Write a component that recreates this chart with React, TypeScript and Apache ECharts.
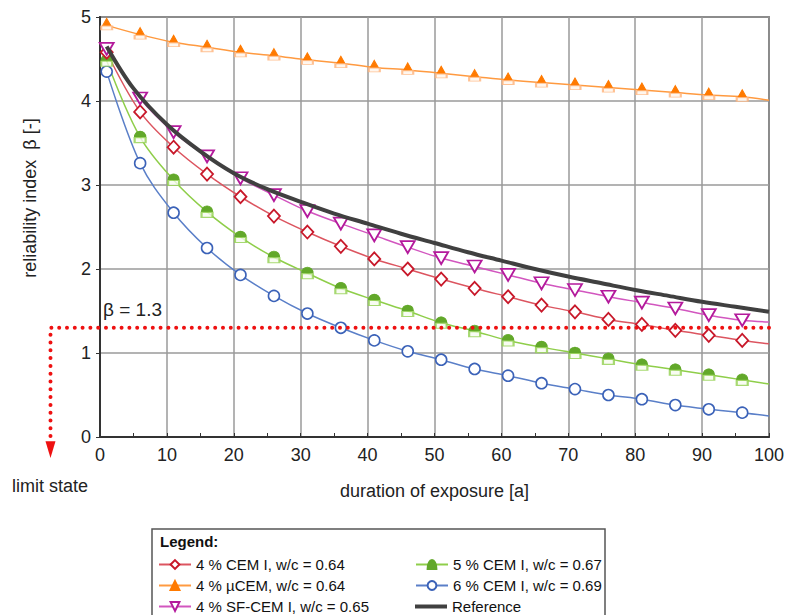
import React, { useEffect, useRef } from 'react';
import * as echarts from 'echarts';

const exposureYears = [1, 6, 11, 16, 21, 26, 31, 36, 41, 46, 51, 56, 61, 66, 71, 76, 81, 86, 91, 96, 100];
const cem4 = [4.58, 3.87, 3.45, 3.13, 2.86, 2.63, 2.44, 2.27, 2.12, 2.0, 1.88, 1.77, 1.67, 1.57, 1.49, 1.4, 1.34, 1.27, 1.21, 1.15, 1.11];
const ucem4 = [4.9, 4.79, 4.7, 4.64, 4.58, 4.54, 4.49, 4.45, 4.4, 4.37, 4.33, 4.29, 4.25, 4.22, 4.19, 4.16, 4.13, 4.1, 4.07, 4.05, 4.01];
const sfcem4 = [4.62, 4.03, 3.63, 3.34, 3.08, 2.88, 2.69, 2.54, 2.4, 2.26, 2.13, 2.03, 1.93, 1.83, 1.75, 1.67, 1.6, 1.53, 1.45, 1.39, 1.37];
const cem5 = [4.48, 3.57, 3.06, 2.68, 2.38, 2.14, 1.95, 1.77, 1.63, 1.5, 1.36, 1.26, 1.15, 1.07, 1.0, 0.93, 0.86, 0.8, 0.74, 0.68, 0.63];
const cem6 = [4.35, 3.26, 2.67, 2.25, 1.93, 1.68, 1.47, 1.3, 1.15, 1.02, 0.92, 0.81, 0.73, 0.64, 0.57, 0.5, 0.45, 0.38, 0.33, 0.29, 0.25];
const refYears = [1, 5, 10, 15, 20, 25, 30, 35, 40, 45, 50, 55, 60, 65, 70, 75, 80, 85, 90, 95, 100];
const reference = [4.65, 4.15, 3.72, 3.4, 3.14, 2.95, 2.8, 2.66, 2.54, 2.42, 2.31, 2.2, 2.1, 2.0, 1.91, 1.83, 1.75, 1.68, 1.61, 1.55, 1.49];
const xTicks = { min: 0, max: 100, interval: 10 };
const yTicks = { min: 0, max: 5, interval: 1 };
const limitBeta = 1.3;
const limitX = -7.4;
const limitArrowTop = -0.05;
const limitArrowTip = -0.25;

const names = {
  cem4: '4 % CEM I, w/c = 0.64',
  ucem4: '4 % µCEM, w/c = 0.64',
  sfcem4: '4 % SF-CEM I, w/c = 0.65',
  cem5: '5 % CEM I, w/c = 0.67',
  cem6: '6 % CEM I, w/c = 0.69',
  ref: 'Reference',
};
const legendColumns = [
  [names.cem4, names.ucem4, names.sfcem4],
  [names.cem5, names.cem6, names.ref],
];

const FONT = 'Liberation Sans, Arial, sans-serif';

function lineData(vals: number[]) {
  return exposureYears.map((x, i) =>
    x === 100 ? { value: [x, vals[i]], symbol: 'none' } : { value: [x, vals[i]] }
  );
}
function markerData(vals: number[]) {
  return exposureYears
    .map((x, i) => [x, vals[i]])
    .filter((p) => p[0] !== 100);
}

const DOME = 'path://M0,7 C0,2.5 2.5,0 5,0 C7.5,0 10,2.5 10,7 Z';
const SMOOTH = 0.35;

export default function App() {
  const ref = useRef<HTMLDivElement>(null);
  useEffect(() => {
    if (!ref.current) return;
    const chart = echarts.init(ref.current, null, { renderer: 'svg' });
    const legendLeft = [158, 415];
    const legends: any[] = [];
    legendColumns.forEach((col, ci) =>
      col.forEach((n, ri) => {
        const isRef = n === names.ref;
        legends.push({
          orient: 'horizontal',
          left: legendLeft[ci],
          top: 557 + ri * 21,
          padding: 0,
          itemWidth: 32,
          itemHeight: isRef ? 4 : 11,
          data: [isRef ? { name: n, icon: 'rect' } : n],
          textStyle: { fontFamily: FONT, fontSize: 15, color: '#111' },
        });
      })
    );
    const option: any = {
      animation: false,
      backgroundColor: '#fff',
      grid: {
        left: 100,
        right: 17,
        top: 17,
        bottom: 178,
        show: true,
        borderColor: '#333',
        borderWidth: 1.5,
        backgroundColor: 'transparent',
      },
      xAxis: {
        type: 'value',
        min: xTicks.min,
        max: xTicks.max,
        interval: xTicks.interval,
        name: 'duration of exposure [a]',
        nameLocation: 'middle',
        nameGap: 45,
        nameTextStyle: { fontFamily: FONT, fontSize: 18, color: '#222' },
        axisLine: { lineStyle: { color: '#333', width: 2 } },
        axisTick: { show: true, inside: true, length: 4, lineStyle: { color: '#333' } },
        minorTick: { show: true, splitNumber: 2, length: 4, lineStyle: { color: '#333' } },
        axisLabel: { fontFamily: FONT, fontSize: 18, color: '#222', margin: 9 },
        splitLine: { show: true, lineStyle: { color: '#9a9a9a', width: 1.5 } },
      },
      yAxis: {
        type: 'value',
        min: yTicks.min,
        max: yTicks.max,
        interval: yTicks.interval,
        axisLine: { show: true, lineStyle: { color: '#333', width: 2 } },
        axisTick: { show: true, length: 4, lineStyle: { color: '#333' } },
        axisLabel: { fontFamily: FONT, fontSize: 18, color: '#222', margin: 9 },
        splitLine: { show: true, lineStyle: { color: '#9a9a9a', width: 1.5 } },
      },
      legend: legends,
      series: [
        {
          name: names.ucem4,
          type: 'line',
          smooth: SMOOTH,
          data: lineData(ucem4),
          lineStyle: { color: '#ff9a40', width: 1.5 },
          symbol: 'triangle',
          symbolSize: [9, 8],
          symbolOffset: [0, -3],
          itemStyle: { color: '#ff7a00', borderColor: '#ff7a00', borderWidth: 1 },
          z: 3,
        },
        {
          name: 'ucem4-base',
          type: 'scatter',
          data: markerData(ucem4),
          symbol: 'rect',
          symbolSize: [11, 4],
          symbolOffset: [0, 2.5],
          itemStyle: { color: '#fff4ea', borderColor: '#ffb37a', borderWidth: 1.3 },
          z: 3,
        },
        {
          name: names.cem6,
          type: 'line',
          smooth: SMOOTH,
          data: lineData(cem6),
          lineStyle: { color: '#5a7fc8', width: 1.5 },
          symbol: 'circle',
          symbolSize: 11,
          itemStyle: { color: '#fff', borderColor: '#3b62b8', borderWidth: 1.6 },
          z: 3,
        },
        {
          name: names.cem5,
          type: 'line',
          smooth: SMOOTH,
          data: lineData(cem5),
          lineStyle: { color: '#8fce4a', width: 1.5 },
          symbol: DOME,
          symbolSize: [11, 6],
          symbolOffset: [0, -3],
          itemStyle: { color: '#62a82a', borderColor: '#62a82a', borderWidth: 1 },
          z: 3,
        },
        {
          name: 'cem5-base',
          type: 'scatter',
          data: markerData(cem5),
          symbol: 'rect',
          symbolSize: [11, 5],
          symbolOffset: [0, 3],
          itemStyle: { color: '#f6fbef', borderColor: '#92d050', borderWidth: 1.5 },
          z: 3,
        },
        {
          name: names.cem4,
          type: 'line',
          smooth: SMOOTH,
          data: lineData(cem4),
          lineStyle: { color: '#dc5560', width: 1.5 },
          symbol: 'diamond',
          symbolSize: [12, 13],
          itemStyle: { color: '#fff', borderColor: '#c8182a', borderWidth: 1.8 },
          z: 3,
        },
        {
          name: names.sfcem4,
          type: 'line',
          smooth: SMOOTH,
          data: lineData(sfcem4),
          lineStyle: { color: '#d256bf', width: 1.5 },
          symbol: 'triangle',
          symbolRotate: 180,
          symbolSize: [14, 12],
          itemStyle: { color: '#fff', borderColor: '#b41a9c', borderWidth: 1.8 },
          z: 3,
        },
        {
          name: names.ref,
          type: 'line',
          smooth: SMOOTH,
          symbol: 'none',
          data: refYears.map((x, i) => [x, reference[i]]),
          lineStyle: { color: '#404040', width: 4 },
          itemStyle: { color: '#404040' },
          z: 4,
        },
      ],
    };
    chart.setOption(option);

    const px = (v: number[]) => chart.convertToPixel({ xAxisIndex: 0, yAxisIndex: 0 }, v) as number[];
    const pRight = px([xTicks.max, limitBeta]);
    const pCorner = px([limitX, limitBeta]);
    const pDown = px([limitX, limitArrowTop]);
    const pTip = px([limitX, limitArrowTip]);

    chart.setOption({
      graphic: [
        {
          type: 'polyline',
          z: 50,
          silent: true,
          shape: { points: [pRight, pCorner, pDown] },
          style: { stroke: '#ee1111', lineWidth: 4, lineDash: [0, 7.8], lineCap: 'round', fill: 'none' },
        },
        {
          type: 'polygon',
          z: 50,
          silent: true,
          shape: {
            points: [
              [pDown[0] - 5, pDown[1]],
              [pDown[0] + 5, pDown[1]],
              [pTip[0], pTip[1]],
            ],
          },
          style: { fill: '#ee1111' },
        },
        {
          type: 'rect',
          shape: { x: 152, y: 529, width: 453, height: 100 },
          style: { fill: 'none', stroke: '#555', lineWidth: 1.5 },
        },
        {
          type: 'text',
          x: 160,
          y: 541,
          style: { text: 'Legend:', font: `bold 15px ${FONT}`, fill: '#111', verticalAlign: 'middle' },
        },
        {
          type: 'text',
          x: 30,
          y: 198,
          rotation: Math.PI / 2,
          style: {
            text: 'reliability index  β [-]',
            font: `18px ${FONT}`,
            fill: '#222',
            align: 'center',
            verticalAlign: 'middle',
          },
        },
        {
          type: 'text',
          x: 103,
          y: 309,
          style: { text: 'β = 1.3', font: `19px ${FONT}`, fill: '#222', verticalAlign: 'middle' },
        },
        {
          type: 'text',
          x: 12,
          y: 486,
          style: { text: 'limit state', font: `18px ${FONT}`, fill: '#222', verticalAlign: 'middle' },
        },
      ],
    });
    return () => chart.dispose();
  }, []);
  return <div ref={ref} style={{ width: 787, height: 615, position: 'absolute', left: 0, top: 0 }} />;
}
